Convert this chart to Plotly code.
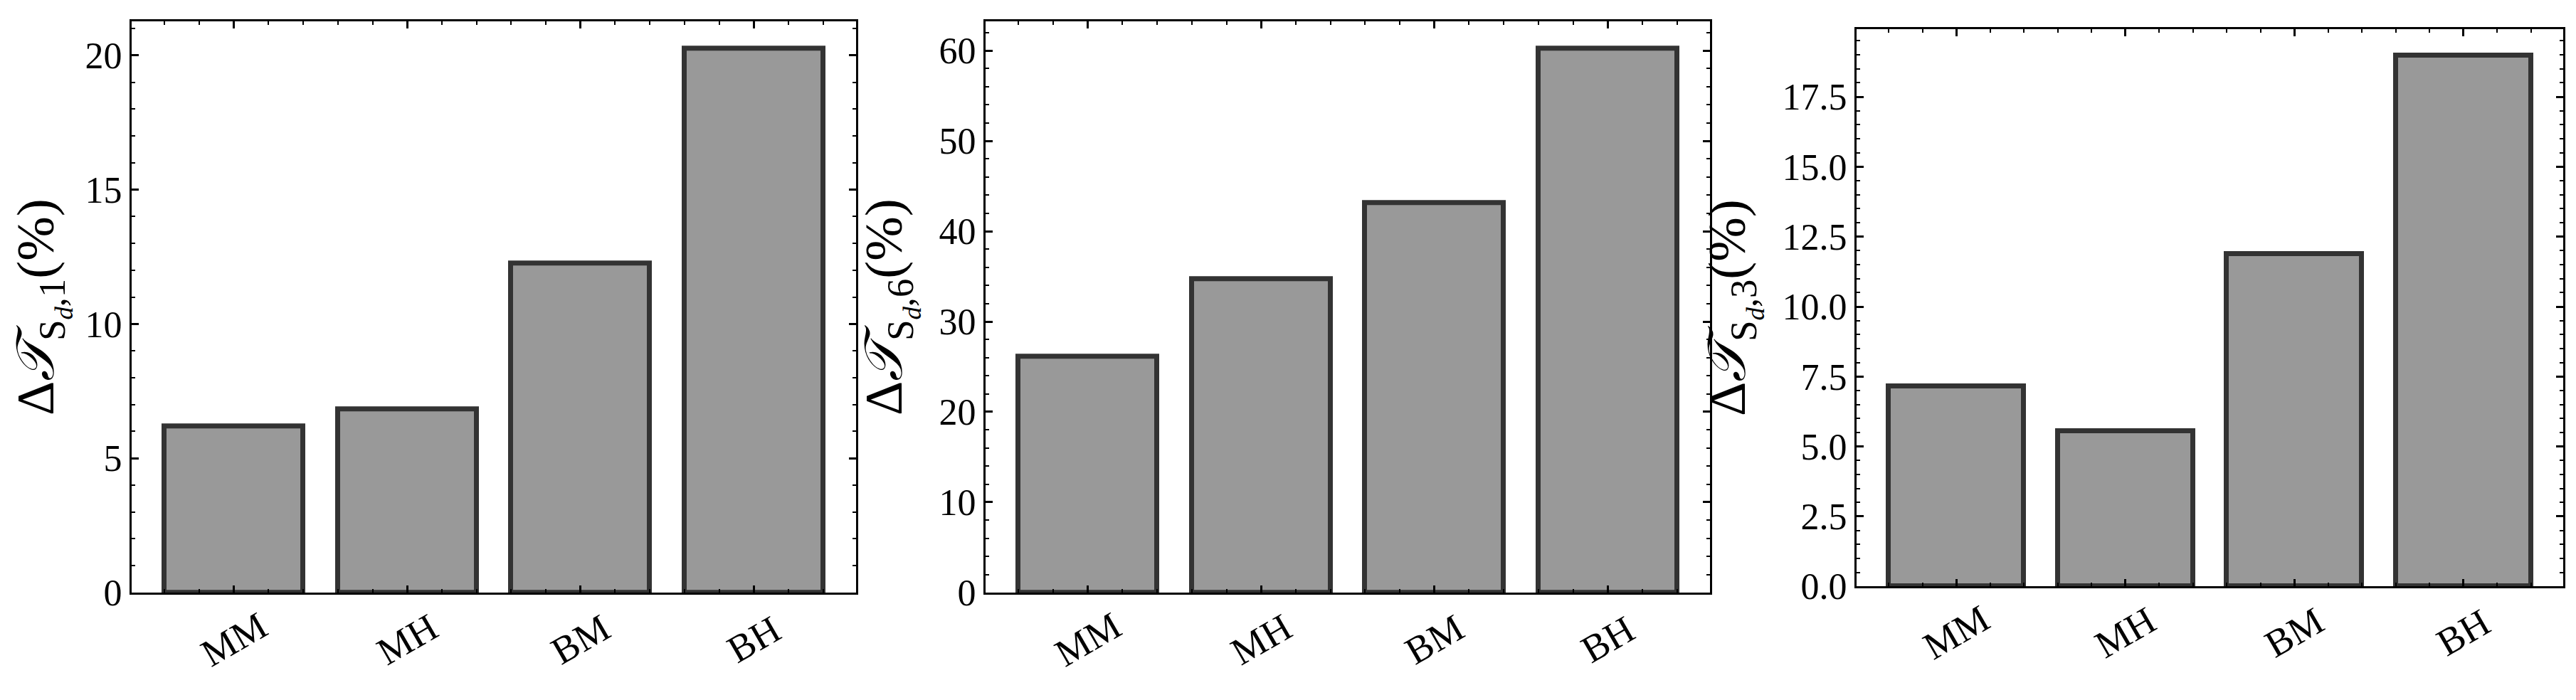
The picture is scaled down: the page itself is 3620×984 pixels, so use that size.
import plotly.graph_objects as go

categories = ["MM", "MH", "BM", "BH"]
vals_1 = [6.2, 6.82, 12.25, 20.25]
vals_6 = [26.1, 34.7, 43.1, 60.2]
vals_3 = [7.15, 5.55, 11.88, 18.97]

titles = [
    "Δ<i>𝒯</i><sub>S<sub><i>d</i></sub>,1</sub>(%)",
    "Δ<i>𝒯</i><sub>S<sub><i>d</i></sub>,6</sub>(%)",
    "Δ<i>𝒯</i><sub>S<sub><i>d</i></sub>,3</sub>(%)",
]
series = [vals_1, vals_6, vals_3]
dticks = [5, 10, 2.5]
minor_dticks = [1, 2, 0.5]
tickformats = ["d", "d", ".1f"]

W, H = 3620, 984
# panel pixel boxes: left, right, top, bottom
boxes = [(177, 1195, 23, 850), (1377, 2395, 23, 850), (2601, 3594, 34, 841)]

FONT = "Liberation Serif"
fig = go.Figure()
xpos = list(range(len(categories)))

for i, (vals, box) in enumerate(zip(series, boxes)):
    n = "" if i == 0 else str(i + 1)
    fig.add_trace(go.Bar(
        x=xpos, y=vals, width=0.8,
        marker=dict(color="#999999", line=dict(color="#333333", width=7)),
        xaxis="x" + n, yaxis="y" + n, showlegend=False,
    ))
    l, r, t, b = box
    xd = [l / W, r / W]
    yd = [1 - b / H, 1 - t / H]
    common = dict(
        showline=True, linewidth=3, linecolor="black", mirror="ticks",
        ticks="inside", ticklen=10, tickwidth=2.5, tickcolor="black",
        showgrid=False, zeroline=False,
    )
    fig.update_layout(**{
        "xaxis" + n: dict(
            domain=xd, anchor="y" + n, range=[-0.59, len(categories) - 1 + 0.59],
            tickmode="array", tickvals=xpos,
            showticklabels=False,
            minor=dict(ticks="inside", ticklen=5, tickwidth=2, tickcolor="black",
                       dtick=0.2, tick0=0, showgrid=False),
            **common,
        ),
        "yaxis" + n: dict(
            domain=yd, anchor="x" + n, range=[0, max(vals) * 1.05],
            dtick=dticks[i], tick0=0, tickformat=tickformats[i],
            tickfont=dict(family=FONT, size=52, color="black"),
            minor=dict(ticks="inside", ticklen=5, tickwidth=2, tickcolor="black",
                       dtick=minor_dticks[i], tick0=0, showgrid=False),
            title=dict(text=titles[i], font=dict(family=FONT, size=75, color="black"),
                       standoff=28),
            **common,
        ),
    })
    # rotated category labels centered under each tick
    ylab = 1 - (b + 68 * (b - t) / 827) / H
    for k, c in enumerate(categories):
        fig.add_annotation(
            x=k, xref="x" + n, y=ylab, yref="paper", text=c, showarrow=False,
            textangle=-30, xanchor="center", yanchor="middle",
            font=dict(family=FONT, size=54, color="black"),
        )

fig.update_layout(
    width=W, height=H, margin=dict(l=0, r=0, t=0, b=0),
    plot_bgcolor="white", paper_bgcolor="white",
    bargap=0,
)
fig.write_html("out.html")
